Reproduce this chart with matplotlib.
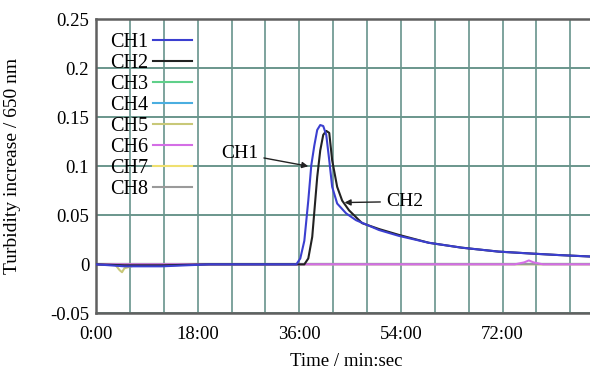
import matplotlib
matplotlib.use("Agg")
import matplotlib.pyplot as plt
from matplotlib.ticker import MultipleLocator, FuncFormatter

plt.rcParams['font.family'] = ['Liberation Serif', 'DejaVu Serif']

# ---- data (time in seconds, turbidity increase) ----
ch1_t = [0, 300, 700, 1200, 2128, 2170, 2213, 2255, 2287, 2319, 2350, 2382, 2414, 2446,
         2478, 2509, 2562, 2657, 2763, 3007, 3219, 3536, 3886, 4278, 4627, 4913, 5250]
ch1_v = [0.0, -0.002, -0.002, 0.0, 0.0, 0.006, 0.024, 0.065, 0.101, 0.121, 0.137, 0.142, 0.141, 0.132,
         0.106, 0.079, 0.062, 0.052, 0.045, 0.035, 0.029, 0.022, 0.017, 0.013, 0.011, 0.0095, 0.008]

ch2_t = [0, 300, 700, 1200, 2213, 2255, 2297, 2350, 2382, 2414, 2446, 2478, 2509,
         2562, 2615, 2689, 2827, 3007, 3219, 3536, 3886, 4278, 4627, 4913, 5250]
ch2_v = [0.0, -0.001, -0.001, 0.0, 0.0, 0.006, 0.028, 0.089, 0.116, 0.132, 0.136, 0.134, 0.106,
         0.079, 0.065, 0.055, 0.042, 0.036, 0.030, 0.022, 0.017, 0.013, 0.011, 0.0095, 0.008]

ch3_t = [0, 5250]
ch3_v = [0.0, 0.0]
ch4_t = [0, 5250]
ch4_v = [0.0, 0.0]
ch5_t = [0, 200, 250, 275, 300, 450, 5250]
ch5_v = [0.0, 0.0, -0.006, -0.008, -0.004, 0.0, 0.0]
ch6_t = [0, 4450, 4550, 4600, 4650, 4750, 5250]
ch6_v = [0.0, 0.0, 0.002, 0.004, 0.002, 0.0, 0.0]
ch7_t = [0, 5250]
ch7_v = [0.0, 0.0]
ch8_t = [0, 5250]
ch8_v = [0.0, 0.0]

labels = ['CH1', 'CH2', 'CH3', 'CH4', 'CH5', 'CH6', 'CH7', 'CH8']
colors = ['#3b3fd0', '#222222', '#5fd08a', '#4aaee0', '#c8c878', '#d46ee6', '#efe070', '#9a9a9a']
xtick_vals = [0, 1080, 2160, 3240, 4320]

fig = plt.figure(figsize=(5.9, 3.74), dpi=100)
ax = fig.add_axes([0.163, 0.162, 0.837, 0.787])

series = [(ch1_t, ch1_v), (ch2_t, ch2_v), (ch3_t, ch3_v), (ch4_t, ch4_v),
          (ch5_t, ch5_v), (ch6_t, ch6_v), (ch7_t, ch7_v), (ch8_t, ch8_v)]
handles = [None] * 8
for i in range(8):
    t, v = series[i]
    z = {0: 5, 1: 4, 5: 3}.get(i, 2)
    h, = ax.plot(t, v, color=colors[i], lw=1.5, label=labels[i], zorder=z)
    handles[i] = h

ax.set_xlim(0, 5250)
ax.set_ylim(-0.05, 0.25)
ax.xaxis.set_major_locator(plt.FixedLocator(xtick_vals))
ax.xaxis.set_major_formatter(FuncFormatter(lambda x, p: f"{int(x // 60)}:{int(x % 60):02d}"))
ax.xaxis.set_minor_locator(MultipleLocator(360))
ax.yaxis.set_major_locator(MultipleLocator(0.05))
ax.yaxis.set_major_formatter(FuncFormatter(lambda y, p: ('0' if abs(y) < 1e-9 else f"{y:g}")))
ax.grid(True, which='both', axis='x', color='#5a8a82', lw=1.1, zorder=0)
ax.grid(True, which='major', axis='y', color='#6a968c', lw=1.4, zorder=0)
ax.tick_params(which='both', length=0, labelsize=13.5)
ax.tick_params(axis='y', pad=5)
ax.tick_params(axis='x', pad=9)
for s in ['left', 'bottom', 'top']:
    ax.spines[s].set_color('#606060')
    ax.spines[s].set_linewidth(1.8)
ax.spines['right'].set_visible(False)

ax.set_ylabel('Turbidity increase / 650 nm', fontsize=14)
ax.set_xlabel('Time / min:sec', fontsize=13.5)
ax.yaxis.set_label_coords(-0.153, 0.5)
ax.xaxis.set_label_coords(0.507, -0.135)

leg = ax.legend(handles=handles, loc='upper left', bbox_to_anchor=(0.0, 1.0),
                frameon=False, markerfirst=False, fontsize=14.5, handlelength=1.9,
                labelspacing=0.09, handletextpad=0.25, borderaxespad=0.3)

ax.annotate('CH1', xy=(2255, 0.1), xytext=(1330, 0.113), fontsize=14,
            arrowprops=dict(arrowstyle='-|>', color='#222222', lw=1.0, mutation_scale=9,
                            shrinkA=2, shrinkB=0),
            va='center', zorder=6)
ax.annotate('CH2', xy=(2640, 0.063), xytext=(3080, 0.064), fontsize=14,
            arrowprops=dict(arrowstyle='-|>', color='#222222', lw=1.0, mutation_scale=9,
                            shrinkA=2, shrinkB=0),
            va='center', zorder=6)

fig.savefig('out.png', dpi=100)
